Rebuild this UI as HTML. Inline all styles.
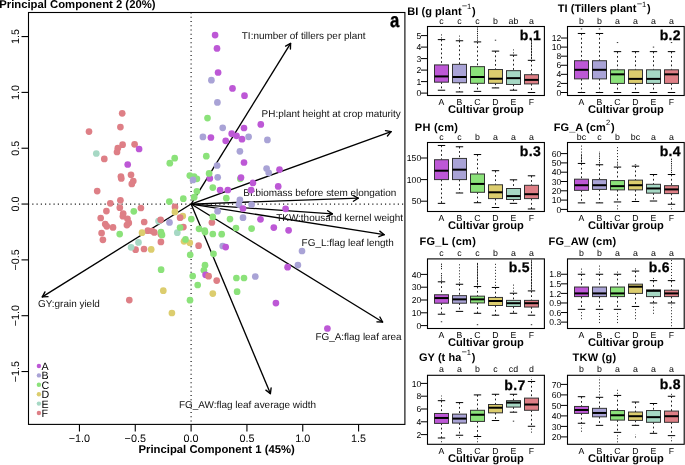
<!DOCTYPE html>
<html><head><meta charset="utf-8"><style>
html,body{margin:0;padding:0;background:#fff;}
svg{display:block;font-family:"Liberation Sans", sans-serif;will-change:transform;text-rendering:geometricPrecision;}
</style></head><body>
<svg width="685" height="465" viewBox="0 0 685 465">
<rect width="685" height="465" fill="#fff"/>
<text x="-0.80" y="8.30" font-size="11.3" font-weight="bold" fill="#000">Principal Component 2 (20%)</text>
<text x="216.70" y="452.80" font-size="11.3" font-weight="bold" text-anchor="middle" fill="#000">Principal Component 1 (45%)</text>
<line x1="191.1" y1="12.5" x2="191.1" y2="424.4" stroke="#111" stroke-width="1.2" stroke-dasharray="1.1,3.15"/>
<line x1="28.5" y1="204.05" x2="404.9" y2="204.05" stroke="#111" stroke-width="1.2" stroke-dasharray="1.1,3.15" stroke-dashoffset="0.45"/>
<line x1="191.1" y1="204.05" x2="290.6" y2="43.4" stroke="#000" stroke-width="1.35"/>
<line x1="290.6" y1="43.4" x2="285.58" y2="46.10" stroke="#000" stroke-width="1.35" stroke-linecap="round"/>
<line x1="290.6" y1="43.4" x2="290.42" y2="49.10" stroke="#000" stroke-width="1.35" stroke-linecap="round"/>
<line x1="191.1" y1="204.05" x2="391.1" y2="131.6" stroke="#000" stroke-width="1.35"/>
<line x1="391.1" y1="131.6" x2="385.49" y2="130.60" stroke="#000" stroke-width="1.35" stroke-linecap="round"/>
<line x1="391.1" y1="131.6" x2="387.43" y2="135.96" stroke="#000" stroke-width="1.35" stroke-linecap="round"/>
<line x1="191.1" y1="204.05" x2="358.2" y2="198.2" stroke="#000" stroke-width="1.35"/>
<line x1="358.2" y1="198.2" x2="353.17" y2="195.52" stroke="#000" stroke-width="1.35" stroke-linecap="round"/>
<line x1="358.2" y1="198.2" x2="353.37" y2="201.22" stroke="#000" stroke-width="1.35" stroke-linecap="round"/>
<line x1="191.1" y1="204.05" x2="332.4" y2="213.9" stroke="#000" stroke-width="1.35"/>
<line x1="332.4" y1="213.9" x2="327.67" y2="210.71" stroke="#000" stroke-width="1.35" stroke-linecap="round"/>
<line x1="332.4" y1="213.9" x2="327.28" y2="216.40" stroke="#000" stroke-width="1.35" stroke-linecap="round"/>
<line x1="191.1" y1="204.05" x2="384.2" y2="234.7" stroke="#000" stroke-width="1.35"/>
<line x1="384.2" y1="234.7" x2="379.77" y2="231.11" stroke="#000" stroke-width="1.35" stroke-linecap="round"/>
<line x1="384.2" y1="234.7" x2="378.88" y2="236.74" stroke="#000" stroke-width="1.35" stroke-linecap="round"/>
<line x1="191.1" y1="204.05" x2="382.6" y2="322.0" stroke="#000" stroke-width="1.35"/>
<line x1="382.6" y1="322.0" x2="379.89" y2="316.98" stroke="#000" stroke-width="1.35" stroke-linecap="round"/>
<line x1="382.6" y1="322.0" x2="376.90" y2="321.84" stroke="#000" stroke-width="1.35" stroke-linecap="round"/>
<line x1="191.1" y1="204.05" x2="270.4" y2="393.6" stroke="#000" stroke-width="1.35"/>
<line x1="270.4" y1="393.6" x2="271.12" y2="387.95" stroke="#000" stroke-width="1.35" stroke-linecap="round"/>
<line x1="270.4" y1="393.6" x2="265.87" y2="390.15" stroke="#000" stroke-width="1.35" stroke-linecap="round"/>
<line x1="191.1" y1="204.05" x2="42.3" y2="296.9" stroke="#000" stroke-width="1.35"/>
<line x1="42.3" y1="296.9" x2="48.00" y2="296.70" stroke="#000" stroke-width="1.35" stroke-linecap="round"/>
<line x1="42.3" y1="296.9" x2="44.98" y2="291.87" stroke="#000" stroke-width="1.35" stroke-linecap="round"/>
<text x="241.80" y="39.30" font-size="9.95" fill="#111">TI:number of tillers per plant</text>
<text x="261.60" y="117.00" font-size="9.95" fill="#111">PH:plant height at crop maturity</text>
<text x="243.30" y="195.70" font-size="9.95" fill="#111">BI:biomass before stem elongation</text>
<text x="276.20" y="220.50" font-size="9.95" fill="#111">TKW:thousand kernel weight</text>
<text x="301.60" y="245.60" font-size="9.95" fill="#111">FG_L:flag leaf length</text>
<text x="315.40" y="340.10" font-size="9.95" fill="#111">FG_A:flag leaf area</text>
<text x="316.00" y="407.50" font-size="9.95" text-anchor="end" fill="#111">FG_AW:flag leaf average width</text>
<text x="38.00" y="307.00" font-size="9.95" fill="#111">GY:grain yield</text>
<circle cx="122.2" cy="113.3" r="3.35" fill="#de7f86"/>
<circle cx="120.4" cy="127.1" r="3.35" fill="#de7f86"/>
<circle cx="89" cy="131.6" r="3.35" fill="#de7f86"/>
<circle cx="122.6" cy="144.7" r="3.35" fill="#de7f86"/>
<circle cx="134.6" cy="144.3" r="3.35" fill="#de7f86"/>
<circle cx="117.8" cy="148.2" r="3.35" fill="#de7f86"/>
<circle cx="117" cy="152" r="3.35" fill="#de7f86"/>
<circle cx="104.3" cy="158.9" r="3.35" fill="#de7f86"/>
<circle cx="131" cy="174.8" r="3.35" fill="#de7f86"/>
<circle cx="120.9" cy="176.6" r="3.35" fill="#de7f86"/>
<circle cx="121.3" cy="178.5" r="3.35" fill="#de7f86"/>
<circle cx="133.3" cy="181.1" r="3.35" fill="#de7f86"/>
<circle cx="131.8" cy="183.9" r="3.35" fill="#de7f86"/>
<circle cx="97.2" cy="191.1" r="3.35" fill="#de7f86"/>
<circle cx="120.4" cy="200.3" r="3.35" fill="#de7f86"/>
<circle cx="110.3" cy="203.3" r="3.35" fill="#de7f86"/>
<circle cx="119.8" cy="207.7" r="3.35" fill="#de7f86"/>
<circle cx="106.4" cy="211.1" r="3.35" fill="#de7f86"/>
<circle cx="123.2" cy="213.5" r="3.35" fill="#de7f86"/>
<circle cx="122.9" cy="216.2" r="3.35" fill="#de7f86"/>
<circle cx="100.7" cy="218" r="3.35" fill="#de7f86"/>
<circle cx="127.5" cy="218.8" r="3.35" fill="#de7f86"/>
<circle cx="128.8" cy="222.9" r="3.35" fill="#de7f86"/>
<circle cx="126.9" cy="225.1" r="3.35" fill="#de7f86"/>
<circle cx="105.2" cy="224.1" r="3.35" fill="#de7f86"/>
<circle cx="106.8" cy="226.3" r="3.35" fill="#de7f86"/>
<circle cx="113" cy="227.4" r="3.35" fill="#de7f86"/>
<circle cx="140.9" cy="208" r="3.35" fill="#de7f86"/>
<circle cx="144.2" cy="222" r="3.35" fill="#de7f86"/>
<circle cx="175" cy="206.9" r="3.35" fill="#de7f86"/>
<circle cx="101.6" cy="233.1" r="3.35" fill="#de7f86"/>
<circle cx="102.9" cy="239.8" r="3.35" fill="#de7f86"/>
<circle cx="147.8" cy="230.7" r="3.35" fill="#de7f86"/>
<circle cx="152.2" cy="231" r="3.35" fill="#de7f86"/>
<circle cx="154.3" cy="232.4" r="3.35" fill="#de7f86"/>
<circle cx="160.9" cy="234.2" r="3.35" fill="#de7f86"/>
<circle cx="160.9" cy="241.9" r="3.35" fill="#de7f86"/>
<circle cx="135.6" cy="249.7" r="3.35" fill="#de7f86"/>
<circle cx="144" cy="249" r="3.35" fill="#de7f86"/>
<circle cx="183.4" cy="227.1" r="3.35" fill="#de7f86"/>
<circle cx="211.9" cy="222.5" r="3.35" fill="#de7f86"/>
<circle cx="198.6" cy="245.7" r="3.35" fill="#de7f86"/>
<circle cx="216.7" cy="280.6" r="3.35" fill="#de7f86"/>
<circle cx="129.3" cy="300.1" r="3.35" fill="#de7f86"/>
<circle cx="96.3" cy="153.5" r="3.35" fill="#a6d8c4"/>
<circle cx="158.5" cy="221.1" r="3.35" fill="#a6d8c4"/>
<circle cx="177.3" cy="232.7" r="3.35" fill="#a6d8c4"/>
<circle cx="138.5" cy="242.4" r="3.35" fill="#a6d8c4"/>
<circle cx="131.1" cy="247.3" r="3.35" fill="#a6d8c4"/>
<circle cx="174.9" cy="211.9" r="3.35" fill="#dccd6e"/>
<circle cx="182.8" cy="216" r="3.35" fill="#dccd6e"/>
<circle cx="142" cy="232.7" r="3.35" fill="#dccd6e"/>
<circle cx="151.2" cy="249.4" r="3.35" fill="#dccd6e"/>
<circle cx="184" cy="241.3" r="3.35" fill="#dccd6e"/>
<circle cx="189.8" cy="242.8" r="3.35" fill="#dccd6e"/>
<circle cx="212.8" cy="293.6" r="3.35" fill="#dccd6e"/>
<circle cx="163.3" cy="290.7" r="3.35" fill="#dccd6e"/>
<circle cx="171.9" cy="313" r="3.35" fill="#dccd6e"/>
<circle cx="207.5" cy="118.1" r="3.35" fill="#8be27a"/>
<circle cx="174.7" cy="158.2" r="3.35" fill="#8be27a"/>
<circle cx="169.8" cy="163.2" r="3.35" fill="#8be27a"/>
<circle cx="133.8" cy="211.3" r="3.35" fill="#8be27a"/>
<circle cx="169.3" cy="201.6" r="3.35" fill="#8be27a"/>
<circle cx="180.1" cy="227.5" r="3.35" fill="#8be27a"/>
<circle cx="119.7" cy="234.1" r="3.35" fill="#8be27a"/>
<circle cx="161" cy="232.1" r="3.35" fill="#8be27a"/>
<circle cx="162" cy="234.9" r="3.35" fill="#8be27a"/>
<circle cx="161.1" cy="269.7" r="3.35" fill="#8be27a"/>
<circle cx="206.3" cy="156.2" r="3.35" fill="#8be27a"/>
<circle cx="240.3" cy="178.8" r="3.35" fill="#8be27a"/>
<circle cx="189.8" cy="175.6" r="3.35" fill="#8be27a"/>
<circle cx="194.1" cy="176.7" r="3.35" fill="#8be27a"/>
<circle cx="196.9" cy="178.8" r="3.35" fill="#8be27a"/>
<circle cx="212.8" cy="187.6" r="3.35" fill="#8be27a"/>
<circle cx="196.9" cy="191.3" r="3.35" fill="#8be27a"/>
<circle cx="194.2" cy="197.2" r="3.35" fill="#8be27a"/>
<circle cx="183.3" cy="198.7" r="3.35" fill="#8be27a"/>
<circle cx="226.3" cy="198.2" r="3.35" fill="#8be27a"/>
<circle cx="230" cy="219.1" r="3.35" fill="#8be27a"/>
<circle cx="236" cy="228" r="3.35" fill="#8be27a"/>
<circle cx="251.6" cy="228.6" r="3.35" fill="#8be27a"/>
<circle cx="236.4" cy="278" r="3.35" fill="#8be27a"/>
<circle cx="244" cy="278" r="3.35" fill="#8be27a"/>
<circle cx="237.1" cy="291.7" r="3.35" fill="#8be27a"/>
<circle cx="205" cy="265.2" r="3.35" fill="#8be27a"/>
<circle cx="203.9" cy="270.3" r="3.35" fill="#8be27a"/>
<circle cx="192.7" cy="276" r="3.35" fill="#8be27a"/>
<circle cx="197.7" cy="285" r="3.35" fill="#8be27a"/>
<circle cx="190" cy="300.2" r="3.35" fill="#8be27a"/>
<circle cx="213.5" cy="253.8" r="3.35" fill="#8be27a"/>
<circle cx="205" cy="232.1" r="3.35" fill="#8be27a"/>
<circle cx="212.8" cy="234" r="3.35" fill="#8be27a"/>
<circle cx="221.7" cy="234.2" r="3.35" fill="#8be27a"/>
<circle cx="191.3" cy="219.1" r="3.35" fill="#8be27a"/>
<circle cx="212.8" cy="216.9" r="3.35" fill="#8be27a"/>
<circle cx="199" cy="228.8" r="3.35" fill="#8be27a"/>
<circle cx="204.7" cy="230.5" r="3.35" fill="#8be27a"/>
<circle cx="185.5" cy="239.4" r="3.35" fill="#8be27a"/>
<circle cx="190.2" cy="254.8" r="3.35" fill="#8be27a"/>
<circle cx="211.4" cy="80.2" r="3.35" fill="#a9a3d6"/>
<circle cx="217.4" cy="102.4" r="3.35" fill="#a9a3d6"/>
<circle cx="169.5" cy="222.4" r="3.35" fill="#a9a3d6"/>
<circle cx="222.7" cy="127.8" r="3.35" fill="#a9a3d6"/>
<circle cx="202.9" cy="136.9" r="3.35" fill="#a9a3d6"/>
<circle cx="248.6" cy="136.8" r="3.35" fill="#a9a3d6"/>
<circle cx="239.9" cy="151.3" r="3.35" fill="#a9a3d6"/>
<circle cx="217.1" cy="165.5" r="3.35" fill="#a9a3d6"/>
<circle cx="217.7" cy="177.3" r="3.35" fill="#a9a3d6"/>
<circle cx="193" cy="179.9" r="3.35" fill="#a9a3d6"/>
<circle cx="239.9" cy="199.8" r="3.35" fill="#a9a3d6"/>
<circle cx="239" cy="204.6" r="3.35" fill="#a9a3d6"/>
<circle cx="267.4" cy="139.9" r="3.35" fill="#a9a3d6"/>
<circle cx="266.6" cy="168.5" r="3.35" fill="#a9a3d6"/>
<circle cx="268.7" cy="172.8" r="3.35" fill="#a9a3d6"/>
<circle cx="251.6" cy="204.5" r="3.35" fill="#a9a3d6"/>
<circle cx="243" cy="217.7" r="3.35" fill="#a9a3d6"/>
<circle cx="302" cy="251" r="3.35" fill="#a9a3d6"/>
<circle cx="297.9" cy="265.1" r="3.35" fill="#a9a3d6"/>
<circle cx="255.3" cy="276.5" r="3.35" fill="#a9a3d6"/>
<circle cx="222.7" cy="246" r="3.35" fill="#a9a3d6"/>
<circle cx="217.6" cy="211.2" r="3.35" fill="#a9a3d6"/>
<circle cx="215.1" cy="35.1" r="3.35" fill="#bd58d6"/>
<circle cx="217" cy="48.4" r="3.35" fill="#bd58d6"/>
<circle cx="218.1" cy="72.5" r="3.35" fill="#bd58d6"/>
<circle cx="232.5" cy="88.4" r="3.35" fill="#bd58d6"/>
<circle cx="244.5" cy="95.7" r="3.35" fill="#bd58d6"/>
<circle cx="139.1" cy="149" r="3.35" fill="#bd58d6"/>
<circle cx="127.7" cy="164.5" r="3.35" fill="#bd58d6"/>
<circle cx="244" cy="128" r="3.35" fill="#bd58d6"/>
<circle cx="210.9" cy="137.5" r="3.35" fill="#bd58d6"/>
<circle cx="231.7" cy="133.7" r="3.35" fill="#bd58d6"/>
<circle cx="236.5" cy="135.8" r="3.35" fill="#bd58d6"/>
<circle cx="242" cy="139.2" r="3.35" fill="#bd58d6"/>
<circle cx="225.7" cy="140.8" r="3.35" fill="#bd58d6"/>
<circle cx="244" cy="162.5" r="3.35" fill="#bd58d6"/>
<circle cx="209.8" cy="178.4" r="3.35" fill="#bd58d6"/>
<circle cx="241" cy="177.6" r="3.35" fill="#bd58d6"/>
<circle cx="220.1" cy="190" r="3.35" fill="#bd58d6"/>
<circle cx="227.8" cy="190" r="3.35" fill="#bd58d6"/>
<circle cx="243" cy="208.5" r="3.35" fill="#bd58d6"/>
<circle cx="260.8" cy="124.4" r="3.35" fill="#bd58d6"/>
<circle cx="279.5" cy="169.6" r="3.35" fill="#bd58d6"/>
<circle cx="253" cy="182.9" r="3.35" fill="#bd58d6"/>
<circle cx="278.2" cy="186.4" r="3.35" fill="#bd58d6"/>
<circle cx="251.1" cy="190.1" r="3.35" fill="#bd58d6"/>
<circle cx="285.6" cy="208.8" r="3.35" fill="#bd58d6"/>
<circle cx="260.5" cy="219.3" r="3.35" fill="#bd58d6"/>
<circle cx="273.8" cy="227.6" r="3.35" fill="#bd58d6"/>
<circle cx="288.6" cy="230.3" r="3.35" fill="#bd58d6"/>
<circle cx="287.6" cy="267.2" r="3.35" fill="#bd58d6"/>
<circle cx="327.4" cy="328.5" r="3.35" fill="#bd58d6"/>
<circle cx="275.9" cy="303.1" r="3.35" fill="#bd58d6"/>
<circle cx="205.6" cy="274.8" r="3.35" fill="#bd58d6"/>
<circle cx="225.7" cy="247.1" r="3.35" fill="#bd58d6"/>
<circle cx="180.1" cy="217.7" r="3.35" fill="#de7f86"/>
<circle cx="208.6" cy="276.2" r="3.35" fill="#de7f86"/>
<circle cx="160.6" cy="219.8" r="3.35" fill="#de7f86"/>
<circle cx="209.1" cy="173.4" r="3.35" fill="#8be27a"/>
<rect x="28.5" y="12.5" width="376.4" height="411.9" fill="none" stroke="#000" stroke-width="1.1"/>
<line x1="79.45" y1="424.4" x2="79.45" y2="431.4" stroke="#000" stroke-width="1.1"/>
<text x="79.45" y="442.10" font-size="10.8" text-anchor="middle" fill="#000">−1.0</text>
<line x1="135.27" y1="424.4" x2="135.27" y2="431.4" stroke="#000" stroke-width="1.1"/>
<text x="135.27" y="442.10" font-size="10.8" text-anchor="middle" fill="#000">−0.5</text>
<line x1="191.10" y1="424.4" x2="191.10" y2="431.4" stroke="#000" stroke-width="1.1"/>
<text x="191.10" y="442.10" font-size="10.8" text-anchor="middle" fill="#000">0.0</text>
<line x1="246.93" y1="424.4" x2="246.93" y2="431.4" stroke="#000" stroke-width="1.1"/>
<text x="246.93" y="442.10" font-size="10.8" text-anchor="middle" fill="#000">0.5</text>
<line x1="302.75" y1="424.4" x2="302.75" y2="431.4" stroke="#000" stroke-width="1.1"/>
<text x="302.75" y="442.10" font-size="10.8" text-anchor="middle" fill="#000">1.0</text>
<line x1="358.58" y1="424.4" x2="358.58" y2="431.4" stroke="#000" stroke-width="1.1"/>
<text x="358.58" y="442.10" font-size="10.8" text-anchor="middle" fill="#000">1.5</text>
<line x1="21.5" y1="36.57" x2="28.5" y2="36.57" stroke="#000" stroke-width="1.1"/>
<text x="0" y="0" font-size="10.8" text-anchor="middle" transform="translate(19.2 36.57) rotate(-90)">1.5</text>
<line x1="21.5" y1="92.40" x2="28.5" y2="92.40" stroke="#000" stroke-width="1.1"/>
<text x="0" y="0" font-size="10.8" text-anchor="middle" transform="translate(19.2 92.40) rotate(-90)">1.0</text>
<line x1="21.5" y1="148.23" x2="28.5" y2="148.23" stroke="#000" stroke-width="1.1"/>
<text x="0" y="0" font-size="10.8" text-anchor="middle" transform="translate(19.2 148.23) rotate(-90)">0.5</text>
<line x1="21.5" y1="204.05" x2="28.5" y2="204.05" stroke="#000" stroke-width="1.1"/>
<text x="0" y="0" font-size="10.8" text-anchor="middle" transform="translate(19.2 204.05) rotate(-90)">0.0</text>
<line x1="21.5" y1="259.88" x2="28.5" y2="259.88" stroke="#000" stroke-width="1.1"/>
<text x="0" y="0" font-size="10.8" text-anchor="middle" transform="translate(19.2 259.88) rotate(-90)">−0.5</text>
<line x1="21.5" y1="315.70" x2="28.5" y2="315.70" stroke="#000" stroke-width="1.1"/>
<text x="0" y="0" font-size="10.8" text-anchor="middle" transform="translate(19.2 315.70) rotate(-90)">−1.0</text>
<line x1="21.5" y1="371.53" x2="28.5" y2="371.53" stroke="#000" stroke-width="1.1"/>
<text x="0" y="0" font-size="10.8" text-anchor="middle" transform="translate(19.2 371.53) rotate(-90)">−1.5</text>
<circle cx="38.9" cy="366.00" r="2.2" fill="#bd58d6"/>
<text x="41.60" y="370.00" font-size="10.7" fill="#000">A</text>
<circle cx="38.9" cy="375.40" r="2.2" fill="#a9a3d6"/>
<text x="41.60" y="379.40" font-size="10.7" fill="#000">B</text>
<circle cx="38.9" cy="384.80" r="2.2" fill="#8be27a"/>
<text x="41.60" y="388.80" font-size="10.7" fill="#000">C</text>
<circle cx="38.9" cy="394.20" r="2.2" fill="#dccd6e"/>
<text x="41.60" y="398.20" font-size="10.7" fill="#000">D</text>
<circle cx="38.9" cy="403.60" r="2.2" fill="#a6d8c4"/>
<text x="41.60" y="407.60" font-size="10.7" fill="#000">E</text>
<circle cx="38.9" cy="413.00" r="2.2" fill="#de7f86"/>
<text x="41.60" y="417.00" font-size="10.7" fill="#000">F</text>
<text x="0" y="0" font-size="19" font-weight="bold" stroke="#000" stroke-width="0.35" text-anchor="end" transform="translate(399.4 26.8) scale(0.88 1.07)">a</text>
<text x="407.3" y="14.6" font-size="11.0" font-weight="bold" letter-spacing="0.05">BI (g plant<tspan font-size="7.6" font-weight="normal" dy="-5.8" dx="0.2"><tspan font-size="9.4">−</tspan><tspan dx="-0.3">1</tspan></tspan><tspan dy="5.8" dx="0.7">)</tspan></text>
<text x="441.50" y="23.50" font-size="8.8" text-anchor="middle" fill="#000">c</text>
<text x="459.50" y="23.50" font-size="8.8" text-anchor="middle" fill="#000">c</text>
<text x="477.50" y="23.50" font-size="8.8" text-anchor="middle" fill="#000">c</text>
<text x="495.50" y="23.50" font-size="8.8" text-anchor="middle" fill="#000">b</text>
<text x="513.50" y="23.50" font-size="8.8" text-anchor="middle" fill="#000">ab</text>
<text x="531.50" y="23.50" font-size="8.8" text-anchor="middle" fill="#000">a</text>
<line x1="421.0" y1="93.10" x2="427.5" y2="93.10" stroke="#000" stroke-width="1"/>
<text x="421.20" y="96.20" font-size="8.6" text-anchor="end" fill="#000">0</text>
<line x1="421.0" y1="81.60" x2="427.5" y2="81.60" stroke="#000" stroke-width="1"/>
<text x="421.20" y="84.70" font-size="8.6" text-anchor="end" fill="#000">1</text>
<line x1="421.0" y1="70.10" x2="427.5" y2="70.10" stroke="#000" stroke-width="1"/>
<text x="421.20" y="73.20" font-size="8.6" text-anchor="end" fill="#000">2</text>
<line x1="421.0" y1="58.60" x2="427.5" y2="58.60" stroke="#000" stroke-width="1"/>
<text x="421.20" y="61.70" font-size="8.6" text-anchor="end" fill="#000">3</text>
<line x1="421.0" y1="47.10" x2="427.5" y2="47.10" stroke="#000" stroke-width="1"/>
<text x="421.20" y="50.20" font-size="8.6" text-anchor="end" fill="#000">4</text>
<line x1="421.0" y1="35.60" x2="427.5" y2="35.60" stroke="#000" stroke-width="1"/>
<text x="421.20" y="38.70" font-size="8.6" text-anchor="end" fill="#000">5</text>
<line x1="441.50" y1="39.62" x2="441.50" y2="64.92" stroke="#222" stroke-width="1" stroke-dasharray="1.8,2.5"/>
<line x1="441.50" y1="82.17" x2="441.50" y2="90.22" stroke="#222" stroke-width="1" stroke-dasharray="1.8,2.5"/>
<line x1="437.80" y1="90.22" x2="445.20" y2="90.22" stroke="#000" stroke-width="1"/>
<line x1="437.80" y1="39.62" x2="445.20" y2="39.62" stroke="#000" stroke-width="1"/>
<line x1="441.50" y1="38.47" x2="441.50" y2="33.30" stroke="#333" stroke-width="1" stroke-dasharray="1.1,1.9"/>
<rect x="434.50" y="64.92" width="14.0" height="17.25" fill="#bd58d6" stroke="#333" stroke-width="1"/>
<line x1="434.50" y1="76.42" x2="448.50" y2="76.42" stroke="#000" stroke-width="2"/>
<text x="441.50" y="104.90" font-size="8.7" text-anchor="middle" fill="#000">A</text>
<line x1="459.50" y1="40.77" x2="459.50" y2="64.35" stroke="#222" stroke-width="1" stroke-dasharray="1.8,2.5"/>
<line x1="459.50" y1="82.75" x2="459.50" y2="91.95" stroke="#222" stroke-width="1" stroke-dasharray="1.8,2.5"/>
<line x1="455.80" y1="91.95" x2="463.20" y2="91.95" stroke="#000" stroke-width="1"/>
<line x1="455.80" y1="40.77" x2="463.20" y2="40.77" stroke="#000" stroke-width="1"/>
<line x1="459.50" y1="39.62" x2="459.50" y2="35.60" stroke="#333" stroke-width="1" stroke-dasharray="1.1,1.9"/>
<rect x="452.50" y="64.35" width="14.0" height="18.40" fill="#a9a3d6" stroke="#333" stroke-width="1"/>
<line x1="452.50" y1="77.00" x2="466.50" y2="77.00" stroke="#000" stroke-width="2"/>
<text x="459.50" y="104.90" font-size="8.7" text-anchor="middle" fill="#000">B</text>
<line x1="477.50" y1="41.92" x2="477.50" y2="66.65" stroke="#222" stroke-width="1" stroke-dasharray="1.8,2.5"/>
<line x1="477.50" y1="83.32" x2="477.50" y2="91.38" stroke="#222" stroke-width="1" stroke-dasharray="1.8,2.5"/>
<line x1="473.80" y1="91.38" x2="481.20" y2="91.38" stroke="#000" stroke-width="1"/>
<line x1="473.80" y1="41.92" x2="481.20" y2="41.92" stroke="#000" stroke-width="1"/>
<line x1="477.50" y1="40.77" x2="477.50" y2="26.97" stroke="#222" stroke-width="1" stroke-dasharray="1.3,0.9"/>
<rect x="470.50" y="66.65" width="14.0" height="16.67" fill="#8be27a" stroke="#333" stroke-width="1"/>
<line x1="470.50" y1="77.00" x2="484.50" y2="77.00" stroke="#000" stroke-width="2"/>
<text x="477.50" y="104.90" font-size="8.7" text-anchor="middle" fill="#000">C</text>
<line x1="495.50" y1="51.12" x2="495.50" y2="69.52" stroke="#222" stroke-width="1" stroke-dasharray="1.8,2.5"/>
<line x1="495.50" y1="83.32" x2="495.50" y2="87.92" stroke="#222" stroke-width="1" stroke-dasharray="1.8,2.5"/>
<line x1="491.80" y1="87.92" x2="499.20" y2="87.92" stroke="#000" stroke-width="1"/>
<line x1="491.80" y1="51.12" x2="499.20" y2="51.12" stroke="#000" stroke-width="1"/>
<rect x="494.80" y="39.70" width="1.4" height="1" fill="#333"/>
<rect x="488.50" y="69.52" width="14.0" height="13.80" fill="#dccd6e" stroke="#333" stroke-width="1"/>
<line x1="488.50" y1="78.72" x2="502.50" y2="78.72" stroke="#000" stroke-width="2"/>
<text x="495.50" y="104.90" font-size="8.7" text-anchor="middle" fill="#000">D</text>
<line x1="513.50" y1="55.15" x2="513.50" y2="70.67" stroke="#222" stroke-width="1" stroke-dasharray="1.8,2.5"/>
<line x1="513.50" y1="84.47" x2="513.50" y2="90.22" stroke="#222" stroke-width="1" stroke-dasharray="1.8,2.5"/>
<line x1="509.80" y1="90.22" x2="517.20" y2="90.22" stroke="#000" stroke-width="1"/>
<line x1="509.80" y1="55.15" x2="517.20" y2="55.15" stroke="#000" stroke-width="1"/>
<line x1="513.50" y1="53.42" x2="513.50" y2="49.40" stroke="#333" stroke-width="1" stroke-dasharray="1.1,1.9"/>
<rect x="506.50" y="70.67" width="14.0" height="13.80" fill="#a6d8c4" stroke="#333" stroke-width="1"/>
<line x1="506.50" y1="78.15" x2="520.50" y2="78.15" stroke="#000" stroke-width="2"/>
<text x="513.50" y="104.90" font-size="8.7" text-anchor="middle" fill="#000">E</text>
<line x1="531.50" y1="60.32" x2="531.50" y2="74.70" stroke="#222" stroke-width="1" stroke-dasharray="1.8,2.5"/>
<line x1="531.50" y1="83.90" x2="531.50" y2="92.52" stroke="#222" stroke-width="1" stroke-dasharray="1.8,2.5"/>
<line x1="527.80" y1="92.52" x2="535.20" y2="92.52" stroke="#000" stroke-width="1"/>
<line x1="527.80" y1="60.32" x2="535.20" y2="60.32" stroke="#000" stroke-width="1"/>
<line x1="531.50" y1="59.17" x2="531.50" y2="39.05" stroke="#222" stroke-width="1" stroke-dasharray="2.4,0.5"/>
<rect x="524.50" y="74.70" width="14.0" height="9.20" fill="#de7f86" stroke="#333" stroke-width="1"/>
<line x1="524.50" y1="79.88" x2="538.50" y2="79.88" stroke="#000" stroke-width="2"/>
<text x="531.50" y="104.90" font-size="8.7" text-anchor="middle" fill="#000">F</text>
<rect x="427.5" y="26.5" width="116.89999999999998" height="69.0" fill="none" stroke="#000" stroke-width="1.1"/>
<text x="485.95" y="113.00" font-size="11.1" font-weight="bold" text-anchor="middle" fill="#000">Cultivar group</text>
<text x="541.00" y="40.10" font-size="14" font-weight="bold" text-anchor="end" fill="#000" letter-spacing="0.3" stroke="#000" stroke-width="0.25">b.1</text>
<text x="557.7" y="12.4" font-size="11.0" font-weight="bold" letter-spacing="0.05">TI (Tillers plant<tspan font-size="7.6" font-weight="normal" dy="-5.8" dx="0.2"><tspan font-size="9.4">−</tspan><tspan dx="-0.3">1</tspan></tspan><tspan dy="5.8" dx="0.7">)</tspan></text>
<text x="581.50" y="23.50" font-size="8.8" text-anchor="middle" fill="#000">b</text>
<text x="599.50" y="23.50" font-size="8.8" text-anchor="middle" fill="#000">b</text>
<text x="617.50" y="23.50" font-size="8.8" text-anchor="middle" fill="#000">a</text>
<text x="635.50" y="23.50" font-size="8.8" text-anchor="middle" fill="#000">a</text>
<text x="653.50" y="23.50" font-size="8.8" text-anchor="middle" fill="#000">a</text>
<text x="671.50" y="23.50" font-size="8.8" text-anchor="middle" fill="#000">a</text>
<line x1="561.0" y1="92.50" x2="567.5" y2="92.50" stroke="#000" stroke-width="1"/>
<text x="561.20" y="95.60" font-size="8.6" text-anchor="end" fill="#000">0</text>
<line x1="561.0" y1="83.42" x2="567.5" y2="83.42" stroke="#000" stroke-width="1"/>
<text x="561.20" y="86.52" font-size="8.6" text-anchor="end" fill="#000">2</text>
<line x1="561.0" y1="74.34" x2="567.5" y2="74.34" stroke="#000" stroke-width="1"/>
<text x="561.20" y="77.44" font-size="8.6" text-anchor="end" fill="#000">4</text>
<line x1="561.0" y1="65.26" x2="567.5" y2="65.26" stroke="#000" stroke-width="1"/>
<text x="561.20" y="68.36" font-size="8.6" text-anchor="end" fill="#000">6</text>
<line x1="561.0" y1="56.18" x2="567.5" y2="56.18" stroke="#000" stroke-width="1"/>
<text x="561.20" y="59.28" font-size="8.6" text-anchor="end" fill="#000">8</text>
<line x1="561.0" y1="47.10" x2="567.5" y2="47.10" stroke="#000" stroke-width="1"/>
<text x="561.20" y="50.20" font-size="8.6" text-anchor="end" fill="#000">10</text>
<line x1="561.0" y1="38.02" x2="567.5" y2="38.02" stroke="#000" stroke-width="1"/>
<text x="561.20" y="41.12" font-size="8.6" text-anchor="end" fill="#000">12</text>
<line x1="581.50" y1="33.48" x2="581.50" y2="60.72" stroke="#222" stroke-width="1" stroke-dasharray="1.8,2.5"/>
<line x1="581.50" y1="78.88" x2="581.50" y2="92.50" stroke="#222" stroke-width="1" stroke-dasharray="1.8,2.5"/>
<line x1="577.80" y1="92.50" x2="585.20" y2="92.50" stroke="#000" stroke-width="1"/>
<line x1="577.80" y1="33.48" x2="585.20" y2="33.48" stroke="#000" stroke-width="1"/>
<rect x="580.80" y="28.44" width="1.4" height="1" fill="#333"/>
<rect x="574.50" y="60.72" width="14.0" height="18.16" fill="#bd58d6" stroke="#333" stroke-width="1"/>
<line x1="574.50" y1="69.80" x2="588.50" y2="69.80" stroke="#000" stroke-width="2"/>
<text x="581.50" y="104.90" font-size="8.7" text-anchor="middle" fill="#000">A</text>
<line x1="599.50" y1="33.48" x2="599.50" y2="60.72" stroke="#222" stroke-width="1" stroke-dasharray="1.8,2.5"/>
<line x1="599.50" y1="78.88" x2="599.50" y2="92.50" stroke="#222" stroke-width="1" stroke-dasharray="1.8,2.5"/>
<line x1="595.80" y1="92.50" x2="603.20" y2="92.50" stroke="#000" stroke-width="1"/>
<line x1="595.80" y1="33.48" x2="603.20" y2="33.48" stroke="#000" stroke-width="1"/>
<rect x="598.80" y="28.44" width="1.4" height="1" fill="#333"/>
<rect x="592.50" y="60.72" width="14.0" height="18.16" fill="#a9a3d6" stroke="#333" stroke-width="1"/>
<line x1="592.50" y1="69.80" x2="606.50" y2="69.80" stroke="#000" stroke-width="2"/>
<text x="599.50" y="104.90" font-size="8.7" text-anchor="middle" fill="#000">B</text>
<line x1="617.50" y1="51.64" x2="617.50" y2="69.80" stroke="#222" stroke-width="1" stroke-dasharray="1.8,2.5"/>
<line x1="617.50" y1="83.42" x2="617.50" y2="92.50" stroke="#222" stroke-width="1" stroke-dasharray="1.8,2.5"/>
<line x1="613.80" y1="92.50" x2="621.20" y2="92.50" stroke="#000" stroke-width="1"/>
<line x1="613.80" y1="51.64" x2="621.20" y2="51.64" stroke="#000" stroke-width="1"/>
<rect x="616.80" y="42.06" width="1.4" height="1" fill="#333"/>
<rect x="610.50" y="69.80" width="14.0" height="13.62" fill="#8be27a" stroke="#333" stroke-width="1"/>
<line x1="610.50" y1="74.34" x2="624.50" y2="74.34" stroke="#000" stroke-width="2"/>
<text x="617.50" y="104.90" font-size="8.7" text-anchor="middle" fill="#000">C</text>
<line x1="635.50" y1="51.64" x2="635.50" y2="69.80" stroke="#222" stroke-width="1" stroke-dasharray="1.8,2.5"/>
<line x1="635.50" y1="83.42" x2="635.50" y2="92.50" stroke="#222" stroke-width="1" stroke-dasharray="1.8,2.5"/>
<line x1="631.80" y1="92.50" x2="639.20" y2="92.50" stroke="#000" stroke-width="1"/>
<line x1="631.80" y1="51.64" x2="639.20" y2="51.64" stroke="#000" stroke-width="1"/>
<rect x="628.50" y="69.80" width="14.0" height="13.62" fill="#dccd6e" stroke="#333" stroke-width="1"/>
<line x1="628.50" y1="78.88" x2="642.50" y2="78.88" stroke="#000" stroke-width="2"/>
<text x="635.50" y="104.90" font-size="8.7" text-anchor="middle" fill="#000">D</text>
<line x1="653.50" y1="51.64" x2="653.50" y2="69.80" stroke="#222" stroke-width="1" stroke-dasharray="1.8,2.5"/>
<line x1="653.50" y1="83.42" x2="653.50" y2="92.50" stroke="#222" stroke-width="1" stroke-dasharray="1.8,2.5"/>
<line x1="649.80" y1="92.50" x2="657.20" y2="92.50" stroke="#000" stroke-width="1"/>
<line x1="649.80" y1="51.64" x2="657.20" y2="51.64" stroke="#000" stroke-width="1"/>
<rect x="652.80" y="46.60" width="1.4" height="1" fill="#333"/>
<rect x="646.50" y="69.80" width="14.0" height="13.62" fill="#a6d8c4" stroke="#333" stroke-width="1"/>
<line x1="646.50" y1="78.88" x2="660.50" y2="78.88" stroke="#000" stroke-width="2"/>
<text x="653.50" y="104.90" font-size="8.7" text-anchor="middle" fill="#000">E</text>
<line x1="671.50" y1="51.64" x2="671.50" y2="69.80" stroke="#222" stroke-width="1" stroke-dasharray="1.8,2.5"/>
<line x1="671.50" y1="83.42" x2="671.50" y2="92.50" stroke="#222" stroke-width="1" stroke-dasharray="1.8,2.5"/>
<line x1="667.80" y1="92.50" x2="675.20" y2="92.50" stroke="#000" stroke-width="1"/>
<line x1="667.80" y1="51.64" x2="675.20" y2="51.64" stroke="#000" stroke-width="1"/>
<rect x="670.80" y="42.06" width="1.4" height="1" fill="#333"/>
<rect x="664.50" y="69.80" width="14.0" height="13.62" fill="#de7f86" stroke="#333" stroke-width="1"/>
<line x1="664.50" y1="74.34" x2="678.50" y2="74.34" stroke="#000" stroke-width="2"/>
<text x="671.50" y="104.90" font-size="8.7" text-anchor="middle" fill="#000">F</text>
<rect x="567.5" y="26.5" width="116.70000000000005" height="69.0" fill="none" stroke="#000" stroke-width="1.1"/>
<text x="625.85" y="113.00" font-size="11.1" font-weight="bold" text-anchor="middle" fill="#000">Cultivar group</text>
<text x="680.80" y="40.10" font-size="14" font-weight="bold" text-anchor="end" fill="#000" letter-spacing="0.3" stroke="#000" stroke-width="0.25">b.2</text>
<text x="414.8" y="130.8" font-size="11.0" font-weight="bold" letter-spacing="0.25">PH (cm)</text>
<text x="441.50" y="139.50" font-size="8.8" text-anchor="middle" fill="#000">c</text>
<text x="459.50" y="139.50" font-size="8.8" text-anchor="middle" fill="#000">c</text>
<text x="477.50" y="139.50" font-size="8.8" text-anchor="middle" fill="#000">b</text>
<text x="495.50" y="139.50" font-size="8.8" text-anchor="middle" fill="#000">a</text>
<text x="513.50" y="139.50" font-size="8.8" text-anchor="middle" fill="#000">a</text>
<text x="531.50" y="139.50" font-size="8.8" text-anchor="middle" fill="#000">a</text>
<line x1="421.0" y1="201.20" x2="427.5" y2="201.20" stroke="#000" stroke-width="1"/>
<text x="421.20" y="204.30" font-size="8.6" text-anchor="end" fill="#000">50</text>
<line x1="421.0" y1="179.60" x2="427.5" y2="179.60" stroke="#000" stroke-width="1"/>
<text x="421.20" y="182.70" font-size="8.6" text-anchor="end" fill="#000">100</text>
<line x1="421.0" y1="158.00" x2="427.5" y2="158.00" stroke="#000" stroke-width="1"/>
<text x="421.20" y="161.10" font-size="8.6" text-anchor="end" fill="#000">150</text>
<line x1="441.50" y1="145.47" x2="441.50" y2="159.73" stroke="#222" stroke-width="1" stroke-dasharray="1.8,2.5"/>
<line x1="441.50" y1="179.60" x2="441.50" y2="203.36" stroke="#222" stroke-width="1" stroke-dasharray="1.8,2.5"/>
<line x1="437.80" y1="203.36" x2="445.20" y2="203.36" stroke="#000" stroke-width="1"/>
<line x1="437.80" y1="145.47" x2="445.20" y2="145.47" stroke="#000" stroke-width="1"/>
<rect x="434.50" y="159.73" width="14.0" height="19.87" fill="#bd58d6" stroke="#333" stroke-width="1"/>
<line x1="434.50" y1="170.70" x2="448.50" y2="170.70" stroke="#000" stroke-width="2"/>
<text x="441.50" y="220.90" font-size="8.7" text-anchor="middle" fill="#000">A</text>
<line x1="459.50" y1="146.77" x2="459.50" y2="158.43" stroke="#222" stroke-width="1" stroke-dasharray="1.8,2.5"/>
<line x1="459.50" y1="179.60" x2="459.50" y2="192.99" stroke="#222" stroke-width="1" stroke-dasharray="1.8,2.5"/>
<line x1="455.80" y1="192.99" x2="463.20" y2="192.99" stroke="#000" stroke-width="1"/>
<line x1="455.80" y1="146.77" x2="463.20" y2="146.77" stroke="#000" stroke-width="1"/>
<rect x="452.50" y="158.43" width="14.0" height="21.17" fill="#a9a3d6" stroke="#333" stroke-width="1"/>
<line x1="452.50" y1="169.66" x2="466.50" y2="169.66" stroke="#000" stroke-width="2"/>
<text x="459.50" y="220.90" font-size="8.7" text-anchor="middle" fill="#000">B</text>
<line x1="477.50" y1="154.54" x2="477.50" y2="173.98" stroke="#222" stroke-width="1" stroke-dasharray="1.8,2.5"/>
<line x1="477.50" y1="192.30" x2="477.50" y2="202.71" stroke="#222" stroke-width="1" stroke-dasharray="1.8,2.5"/>
<line x1="473.80" y1="202.71" x2="481.20" y2="202.71" stroke="#000" stroke-width="1"/>
<line x1="473.80" y1="154.54" x2="481.20" y2="154.54" stroke="#000" stroke-width="1"/>
<rect x="470.50" y="173.98" width="14.0" height="18.32" fill="#8be27a" stroke="#333" stroke-width="1"/>
<line x1="470.50" y1="183.92" x2="484.50" y2="183.92" stroke="#000" stroke-width="2"/>
<text x="477.50" y="220.90" font-size="8.7" text-anchor="middle" fill="#000">C</text>
<line x1="495.50" y1="170.70" x2="495.50" y2="184.78" stroke="#222" stroke-width="1" stroke-dasharray="1.8,2.5"/>
<line x1="495.50" y1="198.61" x2="495.50" y2="207.51" stroke="#222" stroke-width="1" stroke-dasharray="1.8,2.5"/>
<line x1="491.80" y1="207.51" x2="499.20" y2="207.51" stroke="#000" stroke-width="1"/>
<line x1="491.80" y1="170.70" x2="499.20" y2="170.70" stroke="#000" stroke-width="1"/>
<rect x="488.50" y="184.78" width="14.0" height="13.82" fill="#dccd6e" stroke="#333" stroke-width="1"/>
<line x1="488.50" y1="192.30" x2="502.50" y2="192.30" stroke="#000" stroke-width="2"/>
<text x="495.50" y="220.90" font-size="8.7" text-anchor="middle" fill="#000">D</text>
<line x1="513.50" y1="179.82" x2="513.50" y2="188.50" stroke="#222" stroke-width="1" stroke-dasharray="1.8,2.5"/>
<line x1="513.50" y1="199.47" x2="513.50" y2="203.36" stroke="#222" stroke-width="1" stroke-dasharray="1.8,2.5"/>
<line x1="509.80" y1="203.36" x2="517.20" y2="203.36" stroke="#000" stroke-width="1"/>
<line x1="509.80" y1="179.82" x2="517.20" y2="179.82" stroke="#000" stroke-width="1"/>
<rect x="506.50" y="188.50" width="14.0" height="10.97" fill="#a6d8c4" stroke="#333" stroke-width="1"/>
<line x1="506.50" y1="196.10" x2="520.50" y2="196.10" stroke="#000" stroke-width="2"/>
<text x="513.50" y="220.90" font-size="8.7" text-anchor="middle" fill="#000">E</text>
<line x1="531.50" y1="175.80" x2="531.50" y2="185.30" stroke="#222" stroke-width="1" stroke-dasharray="1.8,2.5"/>
<line x1="531.50" y1="198.61" x2="531.50" y2="208.98" stroke="#222" stroke-width="1" stroke-dasharray="1.8,2.5"/>
<line x1="527.80" y1="208.98" x2="535.20" y2="208.98" stroke="#000" stroke-width="1"/>
<line x1="527.80" y1="175.80" x2="535.20" y2="175.80" stroke="#000" stroke-width="1"/>
<rect x="524.50" y="185.30" width="14.0" height="13.31" fill="#de7f86" stroke="#333" stroke-width="1"/>
<line x1="524.50" y1="194.20" x2="538.50" y2="194.20" stroke="#000" stroke-width="2"/>
<text x="531.50" y="220.90" font-size="8.7" text-anchor="middle" fill="#000">F</text>
<rect x="427.5" y="142.5" width="116.89999999999998" height="69.0" fill="none" stroke="#000" stroke-width="1.1"/>
<text x="485.95" y="229.00" font-size="11.1" font-weight="bold" text-anchor="middle" fill="#000">Cultivar group</text>
<text x="541.00" y="156.10" font-size="14" font-weight="bold" text-anchor="end" fill="#000" letter-spacing="0.3" stroke="#000" stroke-width="0.25">b.3</text>
<text x="553.8" y="130.5" font-size="11.0" font-weight="bold" letter-spacing="0.05">FG_A (cm<tspan font-size="7.6" font-weight="normal" dy="-5.8" dx="0.2">2</tspan><tspan dy="5.8" dx="0.7">)</tspan></text>
<text x="581.50" y="139.50" font-size="8.8" text-anchor="middle" fill="#000">bc</text>
<text x="599.50" y="139.50" font-size="8.8" text-anchor="middle" fill="#000">c</text>
<text x="617.50" y="139.50" font-size="8.8" text-anchor="middle" fill="#000">b</text>
<text x="635.50" y="139.50" font-size="8.8" text-anchor="middle" fill="#000">bc</text>
<text x="653.50" y="139.50" font-size="8.8" text-anchor="middle" fill="#000">a</text>
<text x="671.50" y="139.50" font-size="8.8" text-anchor="middle" fill="#000">a</text>
<line x1="561.0" y1="209.40" x2="567.5" y2="209.40" stroke="#000" stroke-width="1"/>
<text x="561.20" y="212.50" font-size="8.6" text-anchor="end" fill="#000">0</text>
<line x1="561.0" y1="200.10" x2="567.5" y2="200.10" stroke="#000" stroke-width="1"/>
<text x="561.20" y="203.20" font-size="8.6" text-anchor="end" fill="#000">10</text>
<line x1="561.0" y1="190.80" x2="567.5" y2="190.80" stroke="#000" stroke-width="1"/>
<text x="561.20" y="193.90" font-size="8.6" text-anchor="end" fill="#000">20</text>
<line x1="561.0" y1="181.50" x2="567.5" y2="181.50" stroke="#000" stroke-width="1"/>
<text x="561.20" y="184.60" font-size="8.6" text-anchor="end" fill="#000">30</text>
<line x1="561.0" y1="172.20" x2="567.5" y2="172.20" stroke="#000" stroke-width="1"/>
<text x="561.20" y="175.30" font-size="8.6" text-anchor="end" fill="#000">40</text>
<line x1="561.0" y1="162.90" x2="567.5" y2="162.90" stroke="#000" stroke-width="1"/>
<text x="561.20" y="166.00" font-size="8.6" text-anchor="end" fill="#000">50</text>
<line x1="561.0" y1="153.60" x2="567.5" y2="153.60" stroke="#000" stroke-width="1"/>
<text x="561.20" y="156.70" font-size="8.6" text-anchor="end" fill="#000">60</text>
<line x1="581.50" y1="163.46" x2="581.50" y2="179.18" stroke="#222" stroke-width="1" stroke-dasharray="1.8,2.5"/>
<line x1="581.50" y1="190.34" x2="581.50" y2="202.89" stroke="#222" stroke-width="1" stroke-dasharray="1.8,2.5"/>
<line x1="577.80" y1="202.89" x2="585.20" y2="202.89" stroke="#000" stroke-width="1"/>
<line x1="577.80" y1="163.46" x2="585.20" y2="163.46" stroke="#000" stroke-width="1"/>
<line x1="581.50" y1="162.44" x2="581.50" y2="153.60" stroke="#222" stroke-width="1" stroke-dasharray="2.4,0.5"/>
<line x1="581.50" y1="152.67" x2="581.50" y2="144.30" stroke="#333" stroke-width="1" stroke-dasharray="1.1,1.9"/>
<rect x="574.50" y="179.18" width="14.0" height="11.16" fill="#bd58d6" stroke="#333" stroke-width="1"/>
<line x1="574.50" y1="185.22" x2="588.50" y2="185.22" stroke="#000" stroke-width="2"/>
<text x="581.50" y="220.90" font-size="8.7" text-anchor="middle" fill="#000">A</text>
<line x1="599.50" y1="164.76" x2="599.50" y2="179.64" stroke="#222" stroke-width="1" stroke-dasharray="1.8,2.5"/>
<line x1="599.50" y1="189.41" x2="599.50" y2="202.89" stroke="#222" stroke-width="1" stroke-dasharray="1.8,2.5"/>
<line x1="595.80" y1="202.89" x2="603.20" y2="202.89" stroke="#000" stroke-width="1"/>
<line x1="595.80" y1="164.76" x2="603.20" y2="164.76" stroke="#000" stroke-width="1"/>
<line x1="599.50" y1="163.37" x2="599.50" y2="151.74" stroke="#222" stroke-width="1" stroke-dasharray="1.3,0.9"/>
<rect x="592.50" y="179.64" width="14.0" height="9.76" fill="#a9a3d6" stroke="#333" stroke-width="1"/>
<line x1="592.50" y1="185.22" x2="606.50" y2="185.22" stroke="#000" stroke-width="2"/>
<text x="599.50" y="220.90" font-size="8.7" text-anchor="middle" fill="#000">B</text>
<line x1="617.50" y1="167.09" x2="617.50" y2="180.57" stroke="#222" stroke-width="1" stroke-dasharray="1.8,2.5"/>
<line x1="617.50" y1="189.87" x2="617.50" y2="201.96" stroke="#222" stroke-width="1" stroke-dasharray="1.8,2.5"/>
<line x1="613.80" y1="201.96" x2="621.20" y2="201.96" stroke="#000" stroke-width="1"/>
<line x1="613.80" y1="167.09" x2="621.20" y2="167.09" stroke="#000" stroke-width="1"/>
<line x1="617.50" y1="165.69" x2="617.50" y2="161.04" stroke="#222" stroke-width="1" stroke-dasharray="1.3,0.9"/>
<line x1="617.50" y1="160.11" x2="617.50" y2="145.23" stroke="#333" stroke-width="1" stroke-dasharray="1.1,1.9"/>
<line x1="617.50" y1="209.40" x2="617.50" y2="203.82" stroke="#333" stroke-width="1" stroke-dasharray="1.1,1.9"/>
<rect x="610.50" y="180.57" width="14.0" height="9.30" fill="#8be27a" stroke="#333" stroke-width="1"/>
<line x1="610.50" y1="186.15" x2="624.50" y2="186.15" stroke="#000" stroke-width="2"/>
<text x="617.50" y="220.90" font-size="8.7" text-anchor="middle" fill="#000">C</text>
<line x1="635.50" y1="166.16" x2="635.50" y2="180.11" stroke="#222" stroke-width="1" stroke-dasharray="1.8,2.5"/>
<line x1="635.50" y1="189.87" x2="635.50" y2="201.50" stroke="#222" stroke-width="1" stroke-dasharray="1.8,2.5"/>
<line x1="631.80" y1="201.50" x2="639.20" y2="201.50" stroke="#000" stroke-width="1"/>
<line x1="631.80" y1="166.16" x2="639.20" y2="166.16" stroke="#000" stroke-width="1"/>
<rect x="634.80" y="164.26" width="1.4" height="1" fill="#333"/>
<rect x="628.50" y="180.11" width="14.0" height="9.76" fill="#dccd6e" stroke="#333" stroke-width="1"/>
<line x1="628.50" y1="185.22" x2="642.50" y2="185.22" stroke="#000" stroke-width="2"/>
<text x="635.50" y="220.90" font-size="8.7" text-anchor="middle" fill="#000">D</text>
<line x1="653.50" y1="174.53" x2="653.50" y2="184.29" stroke="#222" stroke-width="1" stroke-dasharray="1.8,2.5"/>
<line x1="653.50" y1="193.12" x2="653.50" y2="201.03" stroke="#222" stroke-width="1" stroke-dasharray="1.8,2.5"/>
<line x1="649.80" y1="201.03" x2="657.20" y2="201.03" stroke="#000" stroke-width="1"/>
<line x1="649.80" y1="174.53" x2="657.20" y2="174.53" stroke="#000" stroke-width="1"/>
<rect x="646.50" y="184.29" width="14.0" height="8.84" fill="#a6d8c4" stroke="#333" stroke-width="1"/>
<line x1="646.50" y1="188.47" x2="660.50" y2="188.47" stroke="#000" stroke-width="2"/>
<text x="653.50" y="220.90" font-size="8.7" text-anchor="middle" fill="#000">E</text>
<line x1="671.50" y1="174.53" x2="671.50" y2="185.69" stroke="#222" stroke-width="1" stroke-dasharray="1.8,2.5"/>
<line x1="671.50" y1="193.59" x2="671.50" y2="204.28" stroke="#222" stroke-width="1" stroke-dasharray="1.8,2.5"/>
<line x1="667.80" y1="204.28" x2="675.20" y2="204.28" stroke="#000" stroke-width="1"/>
<line x1="667.80" y1="174.53" x2="675.20" y2="174.53" stroke="#000" stroke-width="1"/>
<line x1="671.50" y1="173.13" x2="671.50" y2="158.25" stroke="#222" stroke-width="1" stroke-dasharray="1.3,0.9"/>
<line x1="671.50" y1="209.40" x2="671.50" y2="206.15" stroke="#333" stroke-width="1" stroke-dasharray="1.1,1.9"/>
<rect x="664.50" y="185.69" width="14.0" height="7.91" fill="#de7f86" stroke="#333" stroke-width="1"/>
<line x1="664.50" y1="189.41" x2="678.50" y2="189.41" stroke="#000" stroke-width="2"/>
<text x="671.50" y="220.90" font-size="8.7" text-anchor="middle" fill="#000">F</text>
<rect x="567.5" y="142.5" width="116.70000000000005" height="69.0" fill="none" stroke="#000" stroke-width="1.1"/>
<text x="625.85" y="229.00" font-size="11.1" font-weight="bold" text-anchor="middle" fill="#000">Cultivar group</text>
<text x="680.80" y="156.10" font-size="14" font-weight="bold" text-anchor="end" fill="#000" letter-spacing="0.3" stroke="#000" stroke-width="0.25">b.4</text>
<text x="419.6" y="245.4" font-size="11.0" font-weight="bold" letter-spacing="0.25">FG_L (cm)</text>
<text x="441.50" y="255.90" font-size="8.8" text-anchor="middle" fill="#000">c</text>
<text x="459.50" y="255.90" font-size="8.8" text-anchor="middle" fill="#000">c</text>
<text x="477.50" y="255.90" font-size="8.8" text-anchor="middle" fill="#000">c</text>
<text x="495.50" y="255.90" font-size="8.8" text-anchor="middle" fill="#000">b</text>
<text x="513.50" y="255.90" font-size="8.8" text-anchor="middle" fill="#000">a</text>
<text x="531.50" y="255.90" font-size="8.8" text-anchor="middle" fill="#000">a</text>
<line x1="421.0" y1="325.60" x2="427.5" y2="325.60" stroke="#000" stroke-width="1"/>
<text x="421.20" y="328.70" font-size="8.6" text-anchor="end" fill="#000">0</text>
<line x1="421.0" y1="312.80" x2="427.5" y2="312.80" stroke="#000" stroke-width="1"/>
<text x="421.20" y="315.90" font-size="8.6" text-anchor="end" fill="#000">10</text>
<line x1="421.0" y1="300.00" x2="427.5" y2="300.00" stroke="#000" stroke-width="1"/>
<text x="421.20" y="303.10" font-size="8.6" text-anchor="end" fill="#000">20</text>
<line x1="421.0" y1="287.20" x2="427.5" y2="287.20" stroke="#000" stroke-width="1"/>
<text x="421.20" y="290.30" font-size="8.6" text-anchor="end" fill="#000">30</text>
<line x1="421.0" y1="274.40" x2="427.5" y2="274.40" stroke="#000" stroke-width="1"/>
<text x="421.20" y="277.50" font-size="8.6" text-anchor="end" fill="#000">40</text>
<line x1="441.50" y1="281.82" x2="441.50" y2="294.75" stroke="#222" stroke-width="1" stroke-dasharray="1.8,2.5"/>
<line x1="441.50" y1="303.20" x2="441.50" y2="314.21" stroke="#222" stroke-width="1" stroke-dasharray="1.8,2.5"/>
<line x1="437.80" y1="314.21" x2="445.20" y2="314.21" stroke="#000" stroke-width="1"/>
<line x1="437.80" y1="281.82" x2="445.20" y2="281.82" stroke="#000" stroke-width="1"/>
<line x1="441.50" y1="280.80" x2="441.50" y2="273.12" stroke="#222" stroke-width="1" stroke-dasharray="1.3,0.9"/>
<line x1="441.50" y1="269.28" x2="441.50" y2="262.88" stroke="#222" stroke-width="1" stroke-dasharray="1.3,0.9"/>
<rect x="440.80" y="321.26" width="1.4" height="1" fill="#333"/>
<rect x="434.50" y="294.75" width="14.0" height="8.45" fill="#bd58d6" stroke="#333" stroke-width="1"/>
<line x1="434.50" y1="298.08" x2="448.50" y2="298.08" stroke="#000" stroke-width="2"/>
<text x="441.50" y="337.90" font-size="8.7" text-anchor="middle" fill="#000">A</text>
<line x1="459.50" y1="284.26" x2="459.50" y2="295.65" stroke="#222" stroke-width="1" stroke-dasharray="1.8,2.5"/>
<line x1="459.50" y1="303.20" x2="459.50" y2="311.39" stroke="#222" stroke-width="1" stroke-dasharray="1.8,2.5"/>
<line x1="455.80" y1="311.39" x2="463.20" y2="311.39" stroke="#000" stroke-width="1"/>
<line x1="455.80" y1="284.26" x2="463.20" y2="284.26" stroke="#000" stroke-width="1"/>
<line x1="459.50" y1="283.36" x2="459.50" y2="264.16" stroke="#333" stroke-width="1" stroke-dasharray="1.1,1.9"/>
<rect x="452.50" y="295.65" width="14.0" height="7.55" fill="#a9a3d6" stroke="#333" stroke-width="1"/>
<line x1="452.50" y1="299.36" x2="466.50" y2="299.36" stroke="#000" stroke-width="2"/>
<text x="459.50" y="337.90" font-size="8.7" text-anchor="middle" fill="#000">B</text>
<line x1="477.50" y1="286.56" x2="477.50" y2="296.16" stroke="#222" stroke-width="1" stroke-dasharray="1.8,2.5"/>
<line x1="477.50" y1="302.94" x2="477.50" y2="313.31" stroke="#222" stroke-width="1" stroke-dasharray="1.8,2.5"/>
<line x1="473.80" y1="313.31" x2="481.20" y2="313.31" stroke="#000" stroke-width="1"/>
<line x1="473.80" y1="286.56" x2="481.20" y2="286.56" stroke="#000" stroke-width="1"/>
<line x1="477.50" y1="285.28" x2="477.50" y2="262.88" stroke="#222" stroke-width="1" stroke-dasharray="2.4,0.5"/>
<rect x="476.80" y="324.20" width="1.4" height="1" fill="#333"/>
<rect x="470.50" y="296.16" width="14.0" height="6.78" fill="#8be27a" stroke="#333" stroke-width="1"/>
<line x1="470.50" y1="299.36" x2="484.50" y2="299.36" stroke="#000" stroke-width="2"/>
<text x="477.50" y="337.90" font-size="8.7" text-anchor="middle" fill="#000">C</text>
<line x1="495.50" y1="287.46" x2="495.50" y2="297.44" stroke="#222" stroke-width="1" stroke-dasharray="1.8,2.5"/>
<line x1="495.50" y1="305.50" x2="495.50" y2="315.23" stroke="#222" stroke-width="1" stroke-dasharray="1.8,2.5"/>
<line x1="491.80" y1="315.23" x2="499.20" y2="315.23" stroke="#000" stroke-width="1"/>
<line x1="491.80" y1="287.46" x2="499.20" y2="287.46" stroke="#000" stroke-width="1"/>
<line x1="495.50" y1="285.92" x2="495.50" y2="262.88" stroke="#333" stroke-width="1" stroke-dasharray="1.1,1.9"/>
<rect x="488.50" y="297.44" width="14.0" height="8.06" fill="#dccd6e" stroke="#333" stroke-width="1"/>
<line x1="488.50" y1="301.02" x2="502.50" y2="301.02" stroke="#000" stroke-width="2"/>
<text x="495.50" y="337.90" font-size="8.7" text-anchor="middle" fill="#000">D</text>
<line x1="513.50" y1="293.22" x2="513.50" y2="300.38" stroke="#222" stroke-width="1" stroke-dasharray="1.8,2.5"/>
<line x1="513.50" y1="306.53" x2="513.50" y2="313.31" stroke="#222" stroke-width="1" stroke-dasharray="1.8,2.5"/>
<line x1="509.80" y1="313.31" x2="517.20" y2="313.31" stroke="#000" stroke-width="1"/>
<line x1="509.80" y1="293.22" x2="517.20" y2="293.22" stroke="#000" stroke-width="1"/>
<line x1="513.50" y1="291.68" x2="513.50" y2="283.87" stroke="#333" stroke-width="1" stroke-dasharray="1.1,1.9"/>
<rect x="506.50" y="300.38" width="14.0" height="6.14" fill="#a6d8c4" stroke="#333" stroke-width="1"/>
<line x1="506.50" y1="303.20" x2="520.50" y2="303.20" stroke="#000" stroke-width="2"/>
<text x="513.50" y="337.90" font-size="8.7" text-anchor="middle" fill="#000">E</text>
<line x1="531.50" y1="290.91" x2="531.50" y2="300.38" stroke="#222" stroke-width="1" stroke-dasharray="1.8,2.5"/>
<line x1="531.50" y1="307.04" x2="531.50" y2="315.23" stroke="#222" stroke-width="1" stroke-dasharray="1.8,2.5"/>
<line x1="527.80" y1="315.23" x2="535.20" y2="315.23" stroke="#000" stroke-width="1"/>
<line x1="527.80" y1="290.91" x2="535.20" y2="290.91" stroke="#000" stroke-width="1"/>
<line x1="531.50" y1="289.76" x2="531.50" y2="259.68" stroke="#222" stroke-width="1" stroke-dasharray="2.4,0.5"/>
<rect x="530.80" y="324.20" width="1.4" height="1" fill="#333"/>
<rect x="524.50" y="300.38" width="14.0" height="6.66" fill="#de7f86" stroke="#333" stroke-width="1"/>
<line x1="524.50" y1="303.20" x2="538.50" y2="303.20" stroke="#000" stroke-width="2"/>
<text x="531.50" y="337.90" font-size="8.7" text-anchor="middle" fill="#000">F</text>
<rect x="427.5" y="258.9" width="116.89999999999998" height="69.60000000000002" fill="none" stroke="#000" stroke-width="1.1"/>
<text x="485.95" y="346.00" font-size="11.1" font-weight="bold" text-anchor="middle" fill="#000">Cultivar group</text>
<text x="529.90" y="272.30" font-size="14" font-weight="bold" text-anchor="end" fill="#000" letter-spacing="0.3" stroke="#000" stroke-width="0.25">b.5</text>
<text x="548.5" y="245.4" font-size="11.0" font-weight="bold" letter-spacing="0.25">FG_AW (cm)</text>
<text x="581.50" y="255.90" font-size="8.8" text-anchor="middle" fill="#000">b</text>
<text x="599.50" y="255.90" font-size="8.8" text-anchor="middle" fill="#000">b</text>
<text x="617.50" y="255.90" font-size="8.8" text-anchor="middle" fill="#000">a</text>
<text x="635.50" y="255.90" font-size="8.8" text-anchor="middle" fill="#000">a</text>
<text x="653.50" y="255.90" font-size="8.8" text-anchor="middle" fill="#000">a</text>
<text x="671.50" y="255.90" font-size="8.8" text-anchor="middle" fill="#000">a</text>
<line x1="561.0" y1="322.11" x2="567.5" y2="322.11" stroke="#000" stroke-width="1"/>
<text x="561.20" y="325.21" font-size="8.6" text-anchor="end" fill="#000">0.3</text>
<line x1="561.0" y1="312.54" x2="567.5" y2="312.54" stroke="#000" stroke-width="1"/>
<text x="561.20" y="315.64" font-size="8.6" text-anchor="end" fill="#000">0.6</text>
<line x1="561.0" y1="302.97" x2="567.5" y2="302.97" stroke="#000" stroke-width="1"/>
<text x="561.20" y="306.07" font-size="8.6" text-anchor="end" fill="#000">0.9</text>
<line x1="561.0" y1="293.40" x2="567.5" y2="293.40" stroke="#000" stroke-width="1"/>
<text x="561.20" y="296.50" font-size="8.6" text-anchor="end" fill="#000">1.2</text>
<line x1="561.0" y1="283.83" x2="567.5" y2="283.83" stroke="#000" stroke-width="1"/>
<text x="561.20" y="286.93" font-size="8.6" text-anchor="end" fill="#000">1.5</text>
<line x1="561.0" y1="274.26" x2="567.5" y2="274.26" stroke="#000" stroke-width="1"/>
<text x="561.20" y="277.36" font-size="8.6" text-anchor="end" fill="#000">1.8</text>
<line x1="581.50" y1="274.26" x2="581.50" y2="287.02" stroke="#222" stroke-width="1" stroke-dasharray="1.8,2.5"/>
<line x1="581.50" y1="296.59" x2="581.50" y2="309.35" stroke="#222" stroke-width="1" stroke-dasharray="1.8,2.5"/>
<line x1="577.80" y1="309.35" x2="585.20" y2="309.35" stroke="#000" stroke-width="1"/>
<line x1="577.80" y1="274.26" x2="585.20" y2="274.26" stroke="#000" stroke-width="1"/>
<line x1="581.50" y1="272.66" x2="581.50" y2="267.24" stroke="#333" stroke-width="1" stroke-dasharray="1.1,1.9"/>
<line x1="581.50" y1="319.24" x2="581.50" y2="310.94" stroke="#333" stroke-width="1" stroke-dasharray="1.1,1.9"/>
<rect x="574.50" y="287.02" width="14.0" height="9.57" fill="#bd58d6" stroke="#333" stroke-width="1"/>
<line x1="574.50" y1="293.40" x2="588.50" y2="293.40" stroke="#000" stroke-width="2"/>
<text x="581.50" y="337.90" font-size="8.7" text-anchor="middle" fill="#000">A</text>
<line x1="599.50" y1="274.26" x2="599.50" y2="287.02" stroke="#222" stroke-width="1" stroke-dasharray="1.8,2.5"/>
<line x1="599.50" y1="296.59" x2="599.50" y2="309.35" stroke="#222" stroke-width="1" stroke-dasharray="1.8,2.5"/>
<line x1="595.80" y1="309.35" x2="603.20" y2="309.35" stroke="#000" stroke-width="1"/>
<line x1="595.80" y1="274.26" x2="603.20" y2="274.26" stroke="#000" stroke-width="1"/>
<line x1="599.50" y1="272.66" x2="599.50" y2="264.69" stroke="#333" stroke-width="1" stroke-dasharray="1.1,1.9"/>
<line x1="599.50" y1="323.07" x2="599.50" y2="310.94" stroke="#333" stroke-width="1" stroke-dasharray="1.1,1.9"/>
<rect x="592.50" y="287.02" width="14.0" height="9.57" fill="#a9a3d6" stroke="#333" stroke-width="1"/>
<line x1="592.50" y1="293.40" x2="606.50" y2="293.40" stroke="#000" stroke-width="2"/>
<text x="599.50" y="337.90" font-size="8.7" text-anchor="middle" fill="#000">B</text>
<line x1="617.50" y1="274.26" x2="617.50" y2="287.02" stroke="#222" stroke-width="1" stroke-dasharray="1.8,2.5"/>
<line x1="617.50" y1="296.59" x2="617.50" y2="309.35" stroke="#222" stroke-width="1" stroke-dasharray="1.8,2.5"/>
<line x1="613.80" y1="309.35" x2="621.20" y2="309.35" stroke="#000" stroke-width="1"/>
<line x1="613.80" y1="274.26" x2="621.20" y2="274.26" stroke="#000" stroke-width="1"/>
<line x1="617.50" y1="272.66" x2="617.50" y2="271.07" stroke="#333" stroke-width="1" stroke-dasharray="1.1,1.9"/>
<line x1="617.50" y1="323.07" x2="617.50" y2="310.94" stroke="#333" stroke-width="1" stroke-dasharray="1.1,1.9"/>
<rect x="610.50" y="287.02" width="14.0" height="9.57" fill="#8be27a" stroke="#333" stroke-width="1"/>
<line x1="610.50" y1="293.40" x2="624.50" y2="293.40" stroke="#000" stroke-width="2"/>
<text x="617.50" y="337.90" font-size="8.7" text-anchor="middle" fill="#000">C</text>
<line x1="635.50" y1="271.07" x2="635.50" y2="284.15" stroke="#222" stroke-width="1" stroke-dasharray="1.8,2.5"/>
<line x1="635.50" y1="293.40" x2="635.50" y2="306.48" stroke="#222" stroke-width="1" stroke-dasharray="1.8,2.5"/>
<line x1="631.80" y1="306.48" x2="639.20" y2="306.48" stroke="#000" stroke-width="1"/>
<line x1="631.80" y1="271.07" x2="639.20" y2="271.07" stroke="#000" stroke-width="1"/>
<line x1="635.50" y1="269.47" x2="635.50" y2="267.24" stroke="#333" stroke-width="1" stroke-dasharray="1.1,1.9"/>
<line x1="635.50" y1="319.24" x2="635.50" y2="308.07" stroke="#333" stroke-width="1" stroke-dasharray="1.1,1.9"/>
<rect x="628.50" y="284.15" width="14.0" height="9.25" fill="#dccd6e" stroke="#333" stroke-width="1"/>
<line x1="628.50" y1="286.70" x2="642.50" y2="286.70" stroke="#000" stroke-width="2"/>
<text x="635.50" y="337.90" font-size="8.7" text-anchor="middle" fill="#000">D</text>
<line x1="653.50" y1="280.64" x2="653.50" y2="289.89" stroke="#222" stroke-width="1" stroke-dasharray="1.8,2.5"/>
<line x1="653.50" y1="296.59" x2="653.50" y2="302.97" stroke="#222" stroke-width="1" stroke-dasharray="1.8,2.5"/>
<line x1="649.80" y1="302.97" x2="657.20" y2="302.97" stroke="#000" stroke-width="1"/>
<line x1="649.80" y1="280.64" x2="657.20" y2="280.64" stroke="#000" stroke-width="1"/>
<line x1="653.50" y1="279.04" x2="653.50" y2="277.13" stroke="#333" stroke-width="1" stroke-dasharray="1.1,1.9"/>
<line x1="653.50" y1="313.82" x2="653.50" y2="304.56" stroke="#333" stroke-width="1" stroke-dasharray="1.1,1.9"/>
<rect x="646.50" y="289.89" width="14.0" height="6.70" fill="#a6d8c4" stroke="#333" stroke-width="1"/>
<line x1="646.50" y1="290.85" x2="660.50" y2="290.85" stroke="#000" stroke-width="2"/>
<text x="653.50" y="337.90" font-size="8.7" text-anchor="middle" fill="#000">E</text>
<line x1="671.50" y1="280.64" x2="671.50" y2="290.21" stroke="#222" stroke-width="1" stroke-dasharray="1.8,2.5"/>
<line x1="671.50" y1="296.59" x2="671.50" y2="302.97" stroke="#222" stroke-width="1" stroke-dasharray="1.8,2.5"/>
<line x1="667.80" y1="302.97" x2="675.20" y2="302.97" stroke="#000" stroke-width="1"/>
<line x1="667.80" y1="280.64" x2="675.20" y2="280.64" stroke="#000" stroke-width="1"/>
<line x1="671.50" y1="279.04" x2="671.50" y2="259.59" stroke="#333" stroke-width="1" stroke-dasharray="1.1,1.9"/>
<line x1="671.50" y1="326.26" x2="671.50" y2="304.56" stroke="#333" stroke-width="1" stroke-dasharray="1.1,1.9"/>
<rect x="664.50" y="290.21" width="14.0" height="6.38" fill="#de7f86" stroke="#333" stroke-width="1"/>
<line x1="664.50" y1="293.40" x2="678.50" y2="293.40" stroke="#000" stroke-width="2"/>
<text x="671.50" y="337.90" font-size="8.7" text-anchor="middle" fill="#000">F</text>
<rect x="567.5" y="258.9" width="116.70000000000005" height="69.60000000000002" fill="none" stroke="#000" stroke-width="1.1"/>
<text x="625.85" y="346.00" font-size="11.1" font-weight="bold" text-anchor="middle" fill="#000">Cultivar group</text>
<text x="669.80" y="272.30" font-size="14" font-weight="bold" text-anchor="end" fill="#000" letter-spacing="0.3" stroke="#000" stroke-width="0.25">b.6</text>
<text x="419.0" y="361.1" font-size="11.0" font-weight="bold" letter-spacing="0.05">GY (t ha<tspan font-size="7.6" font-weight="normal" dy="-5.8" dx="0.2"><tspan font-size="9.4">−</tspan><tspan dx="-0.3">1</tspan></tspan><tspan dy="5.8" dx="0.7">)</tspan></text>
<text x="441.50" y="372.30" font-size="8.8" text-anchor="middle" fill="#000">a</text>
<text x="459.50" y="372.30" font-size="8.8" text-anchor="middle" fill="#000">a</text>
<text x="477.50" y="372.30" font-size="8.8" text-anchor="middle" fill="#000">b</text>
<text x="495.50" y="372.30" font-size="8.8" text-anchor="middle" fill="#000">c</text>
<text x="513.50" y="372.30" font-size="8.8" text-anchor="middle" fill="#000">cd</text>
<text x="531.50" y="372.30" font-size="8.8" text-anchor="middle" fill="#000">d</text>
<line x1="421.0" y1="434.60" x2="427.5" y2="434.60" stroke="#000" stroke-width="1"/>
<text x="421.20" y="437.70" font-size="8.6" text-anchor="end" fill="#000">2</text>
<line x1="421.0" y1="421.80" x2="427.5" y2="421.80" stroke="#000" stroke-width="1"/>
<text x="421.20" y="424.90" font-size="8.6" text-anchor="end" fill="#000">4</text>
<line x1="421.0" y1="409.00" x2="427.5" y2="409.00" stroke="#000" stroke-width="1"/>
<text x="421.20" y="412.10" font-size="8.6" text-anchor="end" fill="#000">6</text>
<line x1="421.0" y1="396.20" x2="427.5" y2="396.20" stroke="#000" stroke-width="1"/>
<text x="421.20" y="399.30" font-size="8.6" text-anchor="end" fill="#000">8</text>
<line x1="421.0" y1="383.40" x2="427.5" y2="383.40" stroke="#000" stroke-width="1"/>
<text x="421.20" y="386.50" font-size="8.6" text-anchor="end" fill="#000">10</text>
<line x1="441.50" y1="400.68" x2="441.50" y2="413.48" stroke="#222" stroke-width="1" stroke-dasharray="1.8,2.5"/>
<line x1="441.50" y1="423.40" x2="441.50" y2="437.99" stroke="#222" stroke-width="1" stroke-dasharray="1.8,2.5"/>
<line x1="437.80" y1="437.99" x2="445.20" y2="437.99" stroke="#000" stroke-width="1"/>
<line x1="437.80" y1="400.68" x2="445.20" y2="400.68" stroke="#000" stroke-width="1"/>
<line x1="441.50" y1="399.40" x2="441.50" y2="395.56" stroke="#333" stroke-width="1" stroke-dasharray="1.1,1.9"/>
<line x1="441.50" y1="442.28" x2="441.50" y2="439.08" stroke="#333" stroke-width="1" stroke-dasharray="1.1,1.9"/>
<rect x="434.50" y="413.48" width="14.0" height="9.92" fill="#bd58d6" stroke="#333" stroke-width="1"/>
<line x1="434.50" y1="417.96" x2="448.50" y2="417.96" stroke="#000" stroke-width="2"/>
<text x="441.50" y="453.70" font-size="8.7" text-anchor="middle" fill="#000">A</text>
<line x1="459.50" y1="402.60" x2="459.50" y2="414.12" stroke="#222" stroke-width="1" stroke-dasharray="1.8,2.5"/>
<line x1="459.50" y1="423.08" x2="459.50" y2="435.24" stroke="#222" stroke-width="1" stroke-dasharray="1.8,2.5"/>
<line x1="455.80" y1="435.24" x2="463.20" y2="435.24" stroke="#000" stroke-width="1"/>
<line x1="455.80" y1="402.60" x2="463.20" y2="402.60" stroke="#000" stroke-width="1"/>
<line x1="459.50" y1="438.12" x2="459.50" y2="436.52" stroke="#333" stroke-width="1" stroke-dasharray="1.1,1.9"/>
<rect x="452.50" y="414.12" width="14.0" height="8.96" fill="#a9a3d6" stroke="#333" stroke-width="1"/>
<line x1="452.50" y1="418.60" x2="466.50" y2="418.60" stroke="#000" stroke-width="2"/>
<text x="459.50" y="453.70" font-size="8.7" text-anchor="middle" fill="#000">B</text>
<line x1="477.50" y1="394.92" x2="477.50" y2="410.28" stroke="#222" stroke-width="1" stroke-dasharray="1.8,2.5"/>
<line x1="477.50" y1="421.42" x2="477.50" y2="436.52" stroke="#222" stroke-width="1" stroke-dasharray="1.8,2.5"/>
<line x1="473.80" y1="436.52" x2="481.20" y2="436.52" stroke="#000" stroke-width="1"/>
<line x1="473.80" y1="394.92" x2="481.20" y2="394.92" stroke="#000" stroke-width="1"/>
<line x1="477.50" y1="442.28" x2="477.50" y2="437.80" stroke="#333" stroke-width="1" stroke-dasharray="1.1,1.9"/>
<rect x="470.50" y="410.28" width="14.0" height="11.14" fill="#8be27a" stroke="#333" stroke-width="1"/>
<line x1="470.50" y1="414.76" x2="484.50" y2="414.76" stroke="#000" stroke-width="2"/>
<text x="477.50" y="453.70" font-size="8.7" text-anchor="middle" fill="#000">C</text>
<line x1="495.50" y1="394.28" x2="495.50" y2="404.52" stroke="#222" stroke-width="1" stroke-dasharray="1.8,2.5"/>
<line x1="495.50" y1="412.84" x2="495.50" y2="420.52" stroke="#222" stroke-width="1" stroke-dasharray="1.8,2.5"/>
<line x1="491.80" y1="420.52" x2="499.20" y2="420.52" stroke="#000" stroke-width="1"/>
<line x1="491.80" y1="394.28" x2="499.20" y2="394.28" stroke="#000" stroke-width="1"/>
<rect x="488.50" y="404.52" width="14.0" height="8.32" fill="#dccd6e" stroke="#333" stroke-width="1"/>
<line x1="488.50" y1="407.72" x2="502.50" y2="407.72" stroke="#000" stroke-width="2"/>
<text x="495.50" y="453.70" font-size="8.7" text-anchor="middle" fill="#000">D</text>
<line x1="513.50" y1="394.28" x2="513.50" y2="400.68" stroke="#222" stroke-width="1" stroke-dasharray="1.8,2.5"/>
<line x1="513.50" y1="407.08" x2="513.50" y2="412.20" stroke="#222" stroke-width="1" stroke-dasharray="1.8,2.5"/>
<line x1="509.80" y1="412.20" x2="517.20" y2="412.20" stroke="#000" stroke-width="1"/>
<line x1="509.80" y1="394.28" x2="517.20" y2="394.28" stroke="#000" stroke-width="1"/>
<rect x="512.80" y="420.66" width="1.4" height="1" fill="#333"/>
<rect x="506.50" y="400.68" width="14.0" height="6.40" fill="#a6d8c4" stroke="#333" stroke-width="1"/>
<line x1="506.50" y1="402.60" x2="520.50" y2="402.60" stroke="#000" stroke-width="2"/>
<text x="513.50" y="453.70" font-size="8.7" text-anchor="middle" fill="#000">E</text>
<line x1="531.50" y1="381.48" x2="531.50" y2="398.12" stroke="#222" stroke-width="1" stroke-dasharray="1.8,2.5"/>
<line x1="531.50" y1="410.28" x2="531.50" y2="426.28" stroke="#222" stroke-width="1" stroke-dasharray="1.8,2.5"/>
<line x1="527.80" y1="426.28" x2="535.20" y2="426.28" stroke="#000" stroke-width="1"/>
<line x1="527.80" y1="381.48" x2="535.20" y2="381.48" stroke="#000" stroke-width="1"/>
<line x1="531.50" y1="380.20" x2="531.50" y2="377.00" stroke="#333" stroke-width="1" stroke-dasharray="1.1,1.9"/>
<line x1="531.50" y1="432.68" x2="531.50" y2="427.56" stroke="#333" stroke-width="1" stroke-dasharray="1.1,1.9"/>
<rect x="524.50" y="398.12" width="14.0" height="12.16" fill="#de7f86" stroke="#333" stroke-width="1"/>
<line x1="524.50" y1="404.52" x2="538.50" y2="404.52" stroke="#000" stroke-width="2"/>
<text x="531.50" y="453.70" font-size="8.7" text-anchor="middle" fill="#000">F</text>
<rect x="427.5" y="375.3" width="116.89999999999998" height="69.0" fill="none" stroke="#000" stroke-width="1.1"/>
<text x="485.95" y="461.80" font-size="11.1" font-weight="bold" text-anchor="middle" fill="#000">Cultivar group</text>
<text x="525.50" y="389.50" font-size="14" font-weight="bold" text-anchor="end" fill="#000" letter-spacing="0.3" stroke="#000" stroke-width="0.25">b.7</text>
<text x="572.6" y="360.6" font-size="11.0" font-weight="bold" letter-spacing="0.25">TKW (g)</text>
<text x="581.50" y="372.30" font-size="8.8" text-anchor="middle" fill="#000">b</text>
<text x="599.50" y="372.30" font-size="8.8" text-anchor="middle" fill="#000">b</text>
<text x="617.50" y="372.30" font-size="8.8" text-anchor="middle" fill="#000">a</text>
<text x="635.50" y="372.30" font-size="8.8" text-anchor="middle" fill="#000">a</text>
<text x="653.50" y="372.30" font-size="8.8" text-anchor="middle" fill="#000">a</text>
<text x="671.50" y="372.30" font-size="8.8" text-anchor="middle" fill="#000">a</text>
<line x1="561.0" y1="436.90" x2="567.5" y2="436.90" stroke="#000" stroke-width="1"/>
<text x="561.20" y="440.00" font-size="8.6" text-anchor="end" fill="#000">20</text>
<line x1="561.0" y1="426.40" x2="567.5" y2="426.40" stroke="#000" stroke-width="1"/>
<text x="561.20" y="429.50" font-size="8.6" text-anchor="end" fill="#000">30</text>
<line x1="561.0" y1="415.90" x2="567.5" y2="415.90" stroke="#000" stroke-width="1"/>
<text x="561.20" y="419.00" font-size="8.6" text-anchor="end" fill="#000">40</text>
<line x1="561.0" y1="405.40" x2="567.5" y2="405.40" stroke="#000" stroke-width="1"/>
<text x="561.20" y="408.50" font-size="8.6" text-anchor="end" fill="#000">50</text>
<line x1="561.0" y1="394.90" x2="567.5" y2="394.90" stroke="#000" stroke-width="1"/>
<text x="561.20" y="398.00" font-size="8.6" text-anchor="end" fill="#000">60</text>
<line x1="561.0" y1="384.40" x2="567.5" y2="384.40" stroke="#000" stroke-width="1"/>
<text x="561.20" y="387.50" font-size="8.6" text-anchor="end" fill="#000">70</text>
<line x1="581.50" y1="396.69" x2="581.50" y2="406.45" stroke="#222" stroke-width="1" stroke-dasharray="1.8,2.5"/>
<line x1="581.50" y1="413.38" x2="581.50" y2="423.25" stroke="#222" stroke-width="1" stroke-dasharray="1.8,2.5"/>
<line x1="577.80" y1="423.25" x2="585.20" y2="423.25" stroke="#000" stroke-width="1"/>
<line x1="577.80" y1="396.69" x2="585.20" y2="396.69" stroke="#000" stroke-width="1"/>
<line x1="581.50" y1="431.75" x2="581.50" y2="425.35" stroke="#333" stroke-width="1" stroke-dasharray="1.1,1.9"/>
<rect x="574.50" y="406.45" width="14.0" height="6.93" fill="#bd58d6" stroke="#333" stroke-width="1"/>
<line x1="574.50" y1="410.02" x2="588.50" y2="410.02" stroke="#000" stroke-width="2"/>
<text x="581.50" y="453.70" font-size="8.7" text-anchor="middle" fill="#000">A</text>
<line x1="599.50" y1="397.31" x2="599.50" y2="408.34" stroke="#222" stroke-width="1" stroke-dasharray="1.8,2.5"/>
<line x1="599.50" y1="416.84" x2="599.50" y2="425.35" stroke="#222" stroke-width="1" stroke-dasharray="1.8,2.5"/>
<line x1="595.80" y1="425.35" x2="603.20" y2="425.35" stroke="#000" stroke-width="1"/>
<line x1="595.80" y1="397.31" x2="603.20" y2="397.31" stroke="#000" stroke-width="1"/>
<line x1="599.50" y1="395.42" x2="599.50" y2="377.26" stroke="#333" stroke-width="1" stroke-dasharray="1.1,1.9"/>
<rect x="592.50" y="408.34" width="14.0" height="8.50" fill="#a9a3d6" stroke="#333" stroke-width="1"/>
<line x1="592.50" y1="412.96" x2="606.50" y2="412.96" stroke="#000" stroke-width="2"/>
<text x="599.50" y="453.70" font-size="8.7" text-anchor="middle" fill="#000">B</text>
<line x1="617.50" y1="395.42" x2="617.50" y2="410.54" stroke="#222" stroke-width="1" stroke-dasharray="1.8,2.5"/>
<line x1="617.50" y1="420.10" x2="617.50" y2="432.38" stroke="#222" stroke-width="1" stroke-dasharray="1.8,2.5"/>
<line x1="613.80" y1="432.38" x2="621.20" y2="432.38" stroke="#000" stroke-width="1"/>
<line x1="613.80" y1="395.42" x2="621.20" y2="395.42" stroke="#000" stroke-width="1"/>
<line x1="617.50" y1="393.85" x2="617.50" y2="389.33" stroke="#333" stroke-width="1" stroke-dasharray="1.1,1.9"/>
<line x1="617.50" y1="442.36" x2="617.50" y2="434.27" stroke="#333" stroke-width="1" stroke-dasharray="1.1,1.9"/>
<rect x="610.50" y="410.54" width="14.0" height="9.56" fill="#8be27a" stroke="#333" stroke-width="1"/>
<line x1="610.50" y1="415.27" x2="624.50" y2="415.27" stroke="#000" stroke-width="2"/>
<text x="617.50" y="453.70" font-size="8.7" text-anchor="middle" fill="#000">C</text>
<line x1="635.50" y1="402.04" x2="635.50" y2="412.01" stroke="#222" stroke-width="1" stroke-dasharray="1.8,2.5"/>
<line x1="635.50" y1="420.41" x2="635.50" y2="425.35" stroke="#222" stroke-width="1" stroke-dasharray="1.8,2.5"/>
<line x1="631.80" y1="425.35" x2="639.20" y2="425.35" stroke="#000" stroke-width="1"/>
<line x1="631.80" y1="402.04" x2="639.20" y2="402.04" stroke="#000" stroke-width="1"/>
<line x1="635.50" y1="437.53" x2="635.50" y2="434.27" stroke="#333" stroke-width="1" stroke-dasharray="1.1,1.9"/>
<rect x="628.50" y="412.01" width="14.0" height="8.40" fill="#dccd6e" stroke="#333" stroke-width="1"/>
<line x1="628.50" y1="416.21" x2="642.50" y2="416.21" stroke="#000" stroke-width="2"/>
<text x="635.50" y="453.70" font-size="8.7" text-anchor="middle" fill="#000">D</text>
<line x1="653.50" y1="403.51" x2="653.50" y2="410.54" stroke="#222" stroke-width="1" stroke-dasharray="1.8,2.5"/>
<line x1="653.50" y1="422.31" x2="653.50" y2="433.33" stroke="#222" stroke-width="1" stroke-dasharray="1.8,2.5"/>
<line x1="649.80" y1="433.33" x2="657.20" y2="433.33" stroke="#000" stroke-width="1"/>
<line x1="649.80" y1="403.51" x2="657.20" y2="403.51" stroke="#000" stroke-width="1"/>
<rect x="646.50" y="410.54" width="14.0" height="11.76" fill="#a6d8c4" stroke="#333" stroke-width="1"/>
<line x1="646.50" y1="417.16" x2="660.50" y2="417.16" stroke="#000" stroke-width="2"/>
<text x="653.50" y="453.70" font-size="8.7" text-anchor="middle" fill="#000">E</text>
<line x1="671.50" y1="396.26" x2="671.50" y2="411.07" stroke="#222" stroke-width="1" stroke-dasharray="1.8,2.5"/>
<line x1="671.50" y1="422.31" x2="671.50" y2="435.64" stroke="#222" stroke-width="1" stroke-dasharray="1.8,2.5"/>
<line x1="667.80" y1="435.64" x2="675.20" y2="435.64" stroke="#000" stroke-width="1"/>
<line x1="667.80" y1="396.26" x2="675.20" y2="396.26" stroke="#000" stroke-width="1"/>
<line x1="671.50" y1="394.90" x2="671.50" y2="392.48" stroke="#333" stroke-width="1" stroke-dasharray="1.1,1.9"/>
<line x1="671.50" y1="441.31" x2="671.50" y2="437.42" stroke="#333" stroke-width="1" stroke-dasharray="1.1,1.9"/>
<rect x="664.50" y="411.07" width="14.0" height="11.24" fill="#de7f86" stroke="#333" stroke-width="1"/>
<line x1="664.50" y1="416.21" x2="678.50" y2="416.21" stroke="#000" stroke-width="2"/>
<text x="671.50" y="453.70" font-size="8.7" text-anchor="middle" fill="#000">F</text>
<rect x="567.5" y="375.3" width="116.70000000000005" height="69.0" fill="none" stroke="#000" stroke-width="1.1"/>
<text x="625.85" y="461.80" font-size="11.1" font-weight="bold" text-anchor="middle" fill="#000">Cultivar group</text>
<text x="680.80" y="388.90" font-size="14" font-weight="bold" text-anchor="end" fill="#000" letter-spacing="0.3" stroke="#000" stroke-width="0.25">b.8</text>
</svg></body></html>
